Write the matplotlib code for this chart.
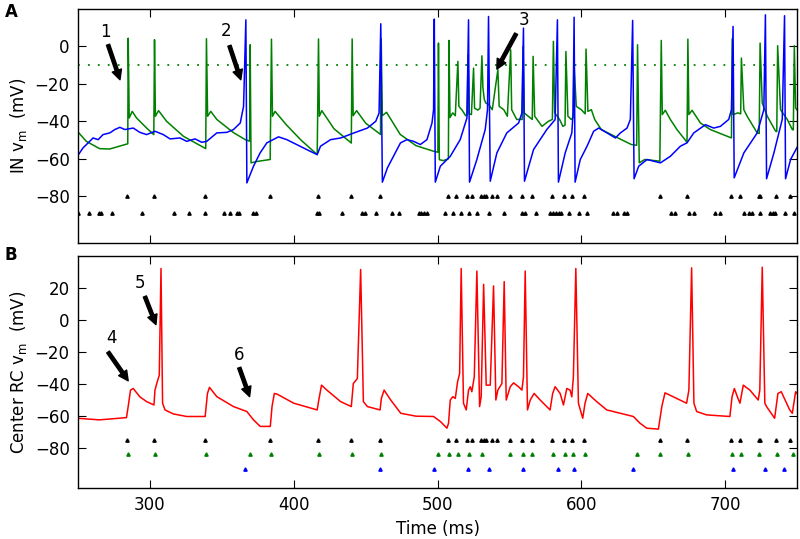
import matplotlib
matplotlib.use("Agg")
import matplotlib.pyplot as plt

plt.rcParams['font.family'] = ['DejaVu Sans']
plt.rcParams['mathtext.default'] = 'regular'
plt.rcParams['font.size'] = 12

# ---------------- Panel A: IN membrane potentials ----------------
# green IN trace as (time ms, mV) vertices
in_green_pts = [
    (249.5, -45.3), (255.8, -50.7), (265, -54.6), (272, -54.8), (283.7, -52.2), (284.6, -52), (284.9, 4.4),
    (285.6, -38.2), (287.7, -34.7), (290.7, -38.2), (297.7, -43.6), (302.7, -47.1), (303.2, 3.6),
    (303.8, -37.3), (306, -34.3), (311.6, -40), (323.3, -48), (338.8, -54.6), (339.3, 4.1), (340.1, -37.3),
    (342.3, -34.7), (346.5, -39), (358, -46), (366.3, -49.8), (369.3, -50.6), (369.7, 0.9), (370.3, -62.2),
    (374, -61.5), (383.6, -60.4), (384.5, 3.9), (385.2, -37.3), (387, -34.7), (395, -42), (405, -50),
    (416.3, -57.8), (417.2, 4), (417.8, -37.3), (419.5, -34.3), (428, -44), (440, -51.6), (440.6, 4),
    (441.3, -37), (443.7, -34.3), (450, -41), (460.3, -47), (460.8, 4), (461.5, -37), (464.5, -35.2),
    (470, -42), (474, -47), (485, -53), (497.2, -56), (500.2, -56.5), (500.6, 1.8), (501.2, -60.5),
    (504, -61), (507.5, -60), (507.9, 3.2), (508.6, -38), (510.5, -35.5), (512.3, -37), (514.1, -8),
    (514.8, -32), (517, -34), (519.5, -37), (520.5, -36.5), (521.2, -4.4), (521.9, -36), (523.5, -36.4),
    (525, -11.6), (525.7, -33), (528, -34), (529.5, -33), (530.8, -5), (531.5, -22), (532.5, -28.4),
    (533.5, -30.2), (535.5, -31), (538, -33.8), (541.9, -12.4), (542.8, -32), (546, -33.8), (548.5, -37.3),
    (550.8, -1.8), (551.5, -33.8), (555, -39), (558.8, -39), (559.4, 0), (560.2, -35.5), (563, -37.3),
    (565.8, -39), (566.4, -5.3), (567.5, -37.3), (572.6, -42.7), (577, -40), (579.8, -39), (580.5, 2.7),
    (581.4, -35.5), (584.8, -39), (587.1, -42.7), (588.6, -42), (589.2, -2.7), (590.6, -37.3), (592.9, -39),
    (594.2, -38), (594.8, -8.5), (596.4, -32), (599.9, -33.8), (602.6, -36), (603.2, -1.4), (604.5, -34.7),
    (606.9, -33.8), (609.2, -39), (613.8, -44.4), (625.4, -48.9), (634.7, -52.4), (638.4, -52.8),
    (639.0, 0.9), (640.2, -62.2), (644, -60.4), (654.5, -61.3), (655.5, 3.2), (656.2, -36.4),
    (658.3, -34.1), (661.8, -39), (666.4, -44.4), (673.4, -51.2), (674.0, 3.9), (674.7, -36.4),
    (676.9, -34.1), (682.7, -40.9), (689.6, -44.4), (704.3, -48.9), (704.8, 4.1), (705.5, -36.4),
    (708.7, -35.5), (710.7, -36), (711.2, -6.2), (712.9, -33.8), (715.2, -37.3), (722.2, -46.2),
    (723.6, -46.5), (724.2, 1.8), (725.7, -30.2), (729.2, -37.3), (735, -45.3), (735.8, -45.5),
    (736.4, 0.4), (738.4, -33.8), (743.1, -39), (746.6, -44.4), (747.3, -44.6), (748.0, 0.4),
    (748.9, -32.9), (750, -34)]
in_green_t = [p[0] for p in in_green_pts]
in_green_v = [p[1] for p in in_green_pts]

in_blue_t = [249.5, 253.5, 260.5, 264, 267.4, 272.1, 275.6, 279.1, 282.6, 288.4, 293, 297.7, 303.5, 309.3,
             314, 320.9, 325.6, 331.4, 336, 339.5, 346.5, 353.5, 358.1, 362.8, 365.1, 366.7, 367.4, 372,
             376.6, 381.3, 389.4, 395.2, 411.4, 416.3, 418.6, 425.6, 432.6, 441.9, 451.2, 457, 459.3, 460.5,
             461.6, 465.1, 474.2, 478.7, 483.3, 488, 492.6, 496.1, 497.2, 497.7, 498.4, 501.9, 508.8, 515.7,
             520.4, 521.5, 522.2, 527.3, 533.1, 534.7, 535.4, 536.6, 541.2, 548.1, 556.3, 558.6, 559.7, 560.4,
             566.7, 575.9, 581.7, 583.3, 584.0, 588.7, 593.3, 594.2, 594.9, 595.6, 599.2, 603.9, 608.5, 612,
             617.8, 623.6, 627.1, 631.7, 634, 635.6, 636.6, 639.8, 645.6, 654.9, 661.8, 668.8, 673.4, 678.1,
             686.2, 692, 696.6, 702.4, 704.3, 705.4, 706.2, 712.9, 722.2, 726.8, 727.9, 728.7, 733.8, 739.6,
             741.2, 741.9, 745.4, 750]
in_blue_v = [-58.7, -54.2, -48.9, -49.8, -47.1, -46.2, -44.4, -43.2, -44.4, -43.6, -45.9, -47.1, -45.3, -47.1,
             -49.4, -48.9, -50.7, -49.4, -51.2, -50.7, -46.2, -45.9, -44.4, -40.9, -32, 14.2, -72.9, -64,
             -56.9, -51.5, -48.3, -49.8, -56, -57.8, -53.3, -49.8, -48.9, -46.2, -43.6, -40, -35.6, 12.1,
             -72.5, -64.9, -51.5, -49.8, -50.7, -52.4, -49.8, -40.9, -33.8, 14.6, -72.5, -64, -58.7, -49.8,
             -38.2, 14.2, -72.5, -60.4, -44.4, -33.8, 16, -72, -56.9, -46.2, -40.9, -35.6, 9.8, -72,
             -55.1, -44.4, -39.1, 14.2, -72.5, -56.9, -46.2, -35.6, 15.6, -72.5, -60.4, -53.3, -45.3, -43.6,
             -46.2, -48.9, -46.2, -43.6, -39, 13.9, -70.7, -64, -60.4, -62.2, -58.7, -53.3, -51.5, -46.2,
             -41.8, -43.6, -42.7, -39, -33.8, 10.7, -70.2, -56.9, -46.2, -33.8, 16.9, -70.7, -56.9, -39,
             16.4, -70.7, -60.4, -53.8]

in_threshold = -10

# spike/input markers in panel A
a_row1_t = [284.2, 302.9, 338.5, 383.6, 416.8, 440, 460.3, 506.9, 513, 520.6, 523.9, 530.2, 532, 533.7,
            537.5, 541.3, 550.5, 558.7, 565.6, 579.5, 587.6, 593.4, 601.5, 654.8, 673.3, 704, 710.4,
            723.2, 724.3, 735, 745.2]
a_row2_t = [250.3, 257.8, 264.3, 265.7, 273.4, 294.8, 316.9, 327.4, 338.5, 351.7, 356, 360.4, 361.9, 372,
            373.5, 416.4, 417.5, 433.4, 447.5, 449.8, 457.5, 468.4, 473, 486.8, 488.4, 490.2, 492.6, 505.3,
            510.6, 516.2, 521.5, 527.3, 535.9, 546.3, 558.7, 561, 568.4, 578.3, 580.2, 582, 584.1, 586,
            591.1, 598, 603.9, 622, 624.7, 629.3, 631.7, 662.3, 665.3, 674.6, 678, 693.1, 696.6, 713.3,
            716.3, 718.6, 724.4, 730.9, 733.3, 734.9, 741.8, 747.6]
a_row1_v = -80
a_row2_v = -89

# ---------------- Panel B: center RC membrane potential ----------------
rc_t = [249.5, 265, 283.7, 284.9, 286.5, 288.4, 293, 297.7, 302.8, 303.5, 305.1, 306.5, 307.7, 308.8,
        310.5, 316.3, 325.6, 338.4, 340, 341.4, 346.5, 358.1, 367.4, 372, 376.7, 383.7, 384.9, 386.5,
        388.4, 400, 416.3, 417.4, 419.3, 423, 432.6, 440, 441.4, 444.2, 446.5, 448.4, 451.2, 460, 460.9,
        462.8, 467.4, 474.4, 485, 497.2, 501.9, 506.5, 507.6, 508.8, 510.6, 512.3, 513.9, 515.3, 516.4,
        518, 519.9, 521.5, 522.7, 523.8, 525.5, 527.3, 529.2, 530.3, 532, 533.8, 536.6, 538.9, 540.5,
        541.9, 544.7, 546.3, 547.7, 550.5, 552.8, 556.3, 558.6, 559.7, 560.9, 562.5, 564.4, 567.1, 571.3,
        578.2, 580, 581.7, 585.2, 587.5, 589.8, 592.1, 593.3, 594.4, 596.1, 597.9, 600.9, 602.5, 604.4,
        610.6, 617.6, 631.5, 636.1, 640.7, 645.4, 653.5, 655.9, 658.1, 663.9, 673.1, 674.7, 676.6, 678.2,
        680.1, 687, 703.2, 704.7, 706.3, 708.4, 710.2, 712.5, 717.1, 722.9, 724, 725.7, 727.5, 728.7,
        734.3, 736.6, 738.9, 744.7, 746.6, 748.9, 750]
rc_v = [-61.4, -62.4, -61, -54, -43.8, -42.8, -48, -51, -53.1, -43.8, -38.6, -34.5, 32.2, -52,
        -56.2, -58.7, -60.3, -60.3, -45.9, -42.1, -47.9, -54.1, -57.2, -62.4, -66.5, -66.5, -54, -45.9,
        -46.3, -52, -56.2, -50, -40.7, -43.8, -51, -54.1, -39.7, -36.6, 31.6, -51, -54.1, -56.2, -49,
        -43.8, -50, -58.3, -60.1, -60.3, -63.4, -67.6, -64.5, -50, -47.9, -49, -38.6, -33.5, 32.2,
        -52, -56.2, -43.8, -41.7, -44.8, -35.5, 30.6, -54.1, -47.9, 22.3, -40.7, -40.7, 21.3, -50,
        -43.8, -39.7, 24, -50, -41.7, -39.3, -41.7, -43.8, -35.5, 30.6, -56.2, -50, -45.9, -50,
        -56.2, -45.9, -41.7, -45.9, -53.1, -42.8, -43.8, -48, -35.5, 32.2, -52, -61.4, -52, -45.9,
        -51, -56.2, -59.3, -60.3, -64.5, -67.6, -68.2, -54, -45.5, -48, -52, -43.8, 32.6, -52,
        -57.2, -59.3, -60.3, -48, -42.8, -48, -52, -40.7, -43.8, -50, -43.8, 33, -52, -54.1,
        -61.4, -45.9, -44.8, -56, -58.3, -44.8, -46]

b_black_t = a_row1_t
b_green_t = [284.9, 303.6, 339, 369.7, 384.3, 417.4, 440.6, 460.6, 500.6, 507.9, 513.9, 521.5, 530.8,
             550.5, 559.4, 565.6, 580, 588.3, 594.1, 602.2, 638.6, 654.9, 674.1, 704.7, 711, 723.7, 736,
             746.9]
b_blue_t = [366.2, 460.1, 497.2, 521.1, 535.5, 559.4, 583.4, 595, 635.6, 705.4, 727.4, 741.1]
b_black_v = -75
b_green_v = -84
b_blue_v = -93

# annotations: (label, text pos, arrow tail, arrow head)
ann_a = [("1", (268.8, 7.8), (270.9, 0.9), (279.2, -17.8)),
         ("2", (352.7, 8.0), (355.3, 0.4), (363.2, -17.8)),
         ("3", (559.8, 14.2), (554.6, 6.8), (541.2, -12.1))]
ann_b = [("4", (273.4, -11.2), (270.9, -20.0), (284.9, -38.0)),
         ("5", (293.0, 22.9), (296.5, 14.7), (304.2, -2.9)),
         ("6", (361.9, -22.1), (362.1, -29.8), (369.3, -47.9))]

xticks = [300, 400, 500, 600, 700]
yticks_a = [-80, -60, -40, -20, 0]
yticks_b = [-80, -60, -40, -20, 0, 20]

GREEN = (0, 0.5, 0)
BLUE = (0, 0, 1)
RED = (1, 0, 0)

fig = plt.figure(figsize=(8.0, 5.39), dpi=100)
axA = fig.add_axes([0.0975, 0.5492, 0.899, 0.4341])
axB = fig.add_axes([0.0975, 0.0946, 0.899, 0.4304])

for ax in (axA, axB):
    ax.tick_params(direction='in', top=True, right=True, length=6, width=0.8, labelsize=12, pad=6)
    for s in ax.spines.values():
        s.set_linewidth(1.0)
    ax.set_xlim(250, 750)
    ax.set_xticks(xticks)

axA.axhline(in_threshold, color=GREEN, lw=1.3, dashes=(1, 4.5))
axA.plot(in_green_t, in_green_v, color=GREEN, lw=1.1)
axA.plot(in_blue_t, in_blue_v, color=BLUE, lw=1.1)
axA.plot(a_row1_t, [a_row1_v] * len(a_row1_t), ls='none', marker='^', ms=2.4, color='k', mec='k')
axA.plot(a_row2_t, [a_row2_v] * len(a_row2_t), ls='none', marker='^', ms=2.4, color='k', mec='k')
axA.set_ylim(-105, 20)
axA.set_yticks(yticks_a)
axA.set_xticklabels([])
axA.set_ylabel('IN v$_m$  (mV)', fontsize=12)

axB.plot(rc_t, rc_v, color=RED, lw=1.1)
axB.plot(b_black_t, [b_black_v] * len(b_black_t), ls='none', marker='^', ms=2.4, color='k', mec='k')
axB.plot(b_green_t, [b_green_v] * len(b_green_t), ls='none', marker='^', ms=2.4, color=GREEN, mec=GREEN)
axB.plot(b_blue_t, [b_blue_v] * len(b_blue_t), ls='none', marker='^', ms=2.4, color=BLUE, mec=BLUE)
axB.set_ylim(-105, 40)
axB.set_yticks(yticks_b)
axB.set_xlabel('Time (ms)', fontsize=12)
axB.set_ylabel('Center RC v$_m$  (mV)', fontsize=12)

for ax, anns in ((axA, ann_a), (axB, ann_b)):
    for lab, tp, tail, head in anns:
        ax.text(tp[0], tp[1], lab, ha='center', va='center', fontsize=12)
        ax.annotate('', xy=head, xytext=tail,
                    arrowprops=dict(facecolor='black', edgecolor='black', width=2.4,
                                    headwidth=7, headlength=7, shrink=0))

fig.text(0.006, 0.995, 'A', fontsize=12, fontweight='bold', va='top', ha='left')
fig.text(0.006, 0.543, 'B', fontsize=12, fontweight='bold', va='top', ha='left')

fig.savefig('out.png', dpi=100)
